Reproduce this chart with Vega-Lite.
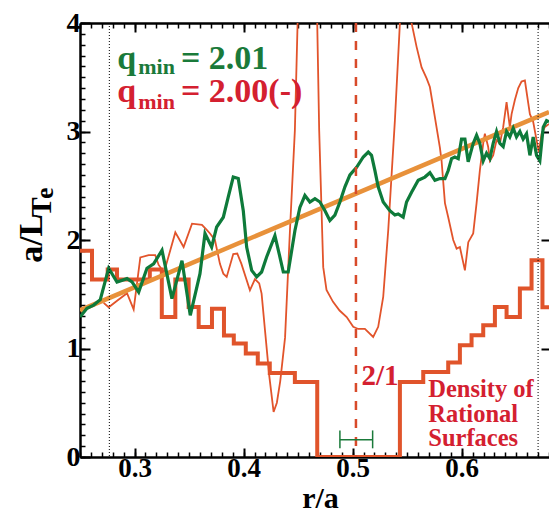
{
  "$schema": "https://vega.github.io/schema/vega-lite/v6.json",
  "width": 469,
  "height": 434,
  "autosize": {"type": "none"},
  "padding": {"left": 80, "top": 23, "right": 0, "bottom": 58},
  "background": "white",
  "datasets": {
    "steps": [
      {"r": 0.25, "v": 1.9}, {"r": 0.261, "v": 1.635}, {"r": 0.2754, "v": 1.727}, {"r": 0.2839, "v": 1.635},
      {"r": 0.314, "v": 1.727}, {"r": 0.325, "v": 1.29}, {"r": 0.3374, "v": 1.635}, {"r": 0.3496, "v": 1.382},
      {"r": 0.3588, "v": 1.198}, {"r": 0.371, "v": 1.367}, {"r": 0.382, "v": 1.12}, {"r": 0.391, "v": 1.045},
      {"r": 0.402, "v": 0.953}, {"r": 0.413, "v": 0.861}, {"r": 0.424, "v": 0.774}, {"r": 0.447, "v": 0.691},
      {"r": 0.4675, "v": 0.0}, {"r": 0.5433, "v": 0.691}, {"r": 0.5647, "v": 0.783}, {"r": 0.5876, "v": 0.87},
      {"r": 0.5983, "v": 1.03}, {"r": 0.609, "v": 1.122}, {"r": 0.6197, "v": 1.214}, {"r": 0.6304, "v": 1.382},
      {"r": 0.6411, "v": 1.29}, {"r": 0.6533, "v": 1.552}, {"r": 0.664, "v": 1.813}, {"r": 0.674, "v": 1.38},
      {"r": 0.69, "v": 1.38}
    ],
    "red": [
      {"r": 0.2717, "v": 1.42}, {"r": 0.2763, "v": 1.38}, {"r": 0.284, "v": 1.44}, {"r": 0.2931, "v": 1.51},
      {"r": 0.2992, "v": 1.36}, {"r": 0.3053, "v": 1.84}, {"r": 0.313, "v": 1.86}, {"r": 0.319, "v": 1.86},
      {"r": 0.3221, "v": 1.77}, {"r": 0.327, "v": 1.7}, {"r": 0.3374, "v": 2.07}, {"r": 0.345, "v": 1.935},
      {"r": 0.3527, "v": 2.15}, {"r": 0.3618, "v": 2.14}, {"r": 0.3664, "v": 2.09}, {"r": 0.3692, "v": 2.06},
      {"r": 0.3737, "v": 2.0}, {"r": 0.3783, "v": 1.78}, {"r": 0.3814, "v": 1.69}, {"r": 0.3845, "v": 1.66},
      {"r": 0.3905, "v": 1.87}, {"r": 0.3942, "v": 1.875}, {"r": 0.398, "v": 1.78}, {"r": 0.4058, "v": 1.536},
      {"r": 0.4104, "v": 1.64}, {"r": 0.4143, "v": 1.6}, {"r": 0.4165, "v": 1.506}, {"r": 0.4196, "v": 1.17},
      {"r": 0.4235, "v": 0.75}, {"r": 0.4275, "v": 0.415}, {"r": 0.4305, "v": 0.5}, {"r": 0.4336, "v": 0.7},
      {"r": 0.438, "v": 1.1}, {"r": 0.4425, "v": 2.09}, {"r": 0.447, "v": 3.01}, {"r": 0.4495, "v": 4.0},
      {"r": 0.458, "v": 4.9}, {"r": 0.4675, "v": 4.0}, {"r": 0.4693, "v": 3.01}, {"r": 0.473, "v": 1.75},
      {"r": 0.476, "v": 1.54}, {"r": 0.482, "v": 1.43}, {"r": 0.488, "v": 1.35}, {"r": 0.4945, "v": 1.29},
      {"r": 0.5005, "v": 1.2}, {"r": 0.5051, "v": 1.18}, {"r": 0.5112, "v": 1.18}, {"r": 0.5188, "v": 1.106},
      {"r": 0.5234, "v": 1.2}, {"r": 0.528, "v": 1.475}, {"r": 0.5326, "v": 2.09}, {"r": 0.5387, "v": 3.1},
      {"r": 0.5433, "v": 4.0}, {"r": 0.549, "v": 4.9}, {"r": 0.554, "v": 4.0}, {"r": 0.5586, "v": 3.78},
      {"r": 0.5632, "v": 3.59}, {"r": 0.5678, "v": 3.49}, {"r": 0.5708, "v": 3.41}, {"r": 0.5754, "v": 3.13},
      {"r": 0.58, "v": 2.85}, {"r": 0.5815, "v": 2.73}, {"r": 0.5846, "v": 2.34}, {"r": 0.5876, "v": 2.21},
      {"r": 0.5922, "v": 2.0}, {"r": 0.5953, "v": 1.92}, {"r": 0.5983, "v": 1.935}, {"r": 0.6029, "v": 1.72},
      {"r": 0.606, "v": 1.98}, {"r": 0.6105, "v": 2.06}, {"r": 0.6136, "v": 2.34}, {"r": 0.6166, "v": 2.64},
      {"r": 0.6197, "v": 2.89}, {"r": 0.6212, "v": 2.98}, {"r": 0.6242, "v": 2.86}, {"r": 0.6258, "v": 2.73},
      {"r": 0.6288, "v": 2.78}, {"r": 0.6319, "v": 2.92}, {"r": 0.635, "v": 2.89}, {"r": 0.638, "v": 3.04},
      {"r": 0.6411, "v": 3.27}, {"r": 0.6441, "v": 3.04}, {"r": 0.6457, "v": 3.16}, {"r": 0.6487, "v": 3.29},
      {"r": 0.6518, "v": 3.4}, {"r": 0.6548, "v": 3.46}, {"r": 0.6579, "v": 3.47}, {"r": 0.661, "v": 3.26},
      {"r": 0.6625, "v": 3.16}, {"r": 0.6655, "v": 3.09}, {"r": 0.6686, "v": 2.92}, {"r": 0.6707, "v": 2.81},
      {"r": 0.6732, "v": 2.98}, {"r": 0.6762, "v": 3.04}, {"r": 0.68, "v": 3.07}
    ],
    "green": [
      {"r": 0.25, "v": 1.29}, {"r": 0.2564, "v": 1.37}, {"r": 0.2625, "v": 1.4}, {"r": 0.2686, "v": 1.45},
      {"r": 0.2763, "v": 1.74}, {"r": 0.2839, "v": 1.613}, {"r": 0.2931, "v": 1.644}, {"r": 0.2977, "v": 1.613},
      {"r": 0.3038, "v": 1.52}, {"r": 0.3114, "v": 1.74}, {"r": 0.3175, "v": 1.78}, {"r": 0.3252, "v": 1.905},
      {"r": 0.3343, "v": 1.46}, {"r": 0.3435, "v": 1.81}, {"r": 0.3511, "v": 1.306}, {"r": 0.36, "v": 1.69},
      {"r": 0.3646, "v": 2.06}, {"r": 0.3707, "v": 1.935}, {"r": 0.3753, "v": 2.12}, {"r": 0.3814, "v": 2.21},
      {"r": 0.386, "v": 2.4}, {"r": 0.3905, "v": 2.58}, {"r": 0.3951, "v": 2.566}, {"r": 0.3997, "v": 2.27},
      {"r": 0.4028, "v": 1.935}, {"r": 0.4074, "v": 1.72}, {"r": 0.412, "v": 1.66}, {"r": 0.4165, "v": 1.705},
      {"r": 0.4211, "v": 1.843}, {"r": 0.4287, "v": 2.04}, {"r": 0.4333, "v": 1.843}, {"r": 0.4364, "v": 1.705},
      {"r": 0.4409, "v": 1.705}, {"r": 0.4471, "v": 2.09}, {"r": 0.4516, "v": 2.3}, {"r": 0.4562, "v": 2.41},
      {"r": 0.4608, "v": 2.35}, {"r": 0.4654, "v": 2.38}, {"r": 0.47, "v": 2.35}, {"r": 0.4746, "v": 2.27},
      {"r": 0.4791, "v": 2.18}, {"r": 0.4837, "v": 2.23}, {"r": 0.4883, "v": 2.35}, {"r": 0.4929, "v": 2.49},
      {"r": 0.4975, "v": 2.6}, {"r": 0.5036, "v": 2.67}, {"r": 0.5097, "v": 2.765}, {"r": 0.5143, "v": 2.81},
      {"r": 0.5173, "v": 2.78}, {"r": 0.5204, "v": 2.64}, {"r": 0.5234, "v": 2.49}, {"r": 0.528, "v": 2.35},
      {"r": 0.5341, "v": 2.27}, {"r": 0.5387, "v": 2.23}, {"r": 0.5417, "v": 2.24}, {"r": 0.5463, "v": 2.21},
      {"r": 0.5494, "v": 2.35}, {"r": 0.554, "v": 2.44}, {"r": 0.5601, "v": 2.55}, {"r": 0.5662, "v": 2.58},
      {"r": 0.5708, "v": 2.62}, {"r": 0.5754, "v": 2.55}, {"r": 0.58, "v": 2.566}, {"r": 0.5846, "v": 2.566},
      {"r": 0.5876, "v": 2.64}, {"r": 0.5907, "v": 2.75}, {"r": 0.5937, "v": 2.765}, {"r": 0.5968, "v": 2.75},
      {"r": 0.5998, "v": 2.93}, {"r": 0.6029, "v": 2.93}, {"r": 0.6059, "v": 2.72}, {"r": 0.6105, "v": 2.89},
      {"r": 0.6136, "v": 2.965}, {"r": 0.6166, "v": 2.89}, {"r": 0.6197, "v": 2.73}, {"r": 0.6227, "v": 2.8},
      {"r": 0.6258, "v": 2.75}, {"r": 0.6288, "v": 2.89}, {"r": 0.6319, "v": 3.0}, {"r": 0.635, "v": 2.89},
      {"r": 0.638, "v": 2.86}, {"r": 0.6411, "v": 3.0}, {"r": 0.6441, "v": 2.95}, {"r": 0.6472, "v": 3.03},
      {"r": 0.6502, "v": 2.95}, {"r": 0.6533, "v": 3.0}, {"r": 0.6563, "v": 2.93}, {"r": 0.6594, "v": 2.98},
      {"r": 0.6625, "v": 2.78}, {"r": 0.6655, "v": 2.95}, {"r": 0.6686, "v": 2.78}, {"r": 0.6716, "v": 2.73},
      {"r": 0.6747, "v": 3.04}, {"r": 0.6778, "v": 3.1}, {"r": 0.68, "v": 3.09}
    ],
    "fit": [{"r": 0.25, "v": 1.352}, {"r": 0.68, "v": 3.18}]
  },
  "resolve": {"axis": {"x": "independent", "y": "independent"}},
  "layer": [
    {
      "data": {"name": "steps"},
      "mark": {"type": "line", "interpolate": "step-after", "color": "#e0542b", "strokeWidth": 4, "clip": true},
      "encoding": {
        "x": {"field": "r", "type": "quantitative", "scale": {"domain": [0.25, 0.68], "nice": false, "zero": false},
          "axis": {"orient": "bottom", "values": [0.3, 0.4, 0.5, 0.6], "format": ".1f", "tickSize": -9, "tickWidth": 2,
            "domain": true, "domainWidth": 2.5, "labelFontSize": 27, "labelPadding": 7, "labelFlush": false,
            "title": "r/a", "titleFontSize": 30, "titleBaseline": "alphabetic", "titleY": 50, "titleX": 240}},
        "y": {"field": "v", "type": "quantitative", "scale": {"domain": [0, 4], "nice": false, "zero": false},
          "axis": {"orient": "left", "values": [0, 1, 2, 3, 4], "format": "d", "tickSize": -10, "tickWidth": 2,
            "domain": true, "domainWidth": 2.5, "labelFontSize": 28, "labelPadding": 10, "labelFlush": false, "title": null}}
      }
    },
    {
      "data": {"name": "red"},
      "mark": {"type": "line", "color": "#e2542b", "strokeWidth": 1.8, "clip": true},
      "encoding": {
        "x": {"field": "r", "type": "quantitative", "scale": {"domain": [0.25, 0.68], "nice": false, "zero": false},
          "axis": {"orient": "bottom", "values": [0.25,0.26,0.27,0.28,0.29,0.3,0.31,0.32,0.33,0.34,0.35,0.36,0.37,0.38,0.39,0.4,0.41,0.42,0.43,0.44,0.45,0.46,0.47,0.48,0.49,0.5,0.51,0.52,0.53,0.54,0.55,0.56,0.57,0.58,0.59,0.6,0.61,0.62,0.63,0.64,0.65,0.66,0.67,0.68],
            "labels": false, "tickSize": -5, "tickWidth": 1.5, "domain": false, "title": null}},
        "y": {"field": "v", "type": "quantitative", "scale": {"domain": [0, 4], "nice": false, "zero": false},
          "axis": {"orient": "left", "values": [0,0.1,0.2,0.3,0.4,0.5,0.6,0.7,0.8,0.9,1,1.1,1.2,1.3,1.4,1.5,1.6,1.7,1.8,1.9,2,2.1,2.2,2.3,2.4,2.5,2.6,2.7,2.8,2.9,3,3.1,3.2,3.3,3.4,3.5,3.6,3.7,3.8,3.9,4],
            "labels": false, "tickSize": -5, "tickWidth": 1.5, "domain": false, "title": null}}
      }
    },
    {
      "data": {"name": "fit"},
      "mark": {"type": "line", "color": "#e8913a", "strokeWidth": 4.5, "clip": true},
      "encoding": {
        "x": {"field": "r", "type": "quantitative", "scale": {"domain": [0.25, 0.68], "nice": false, "zero": false},
          "axis": {"orient": "top", "values": [0.25,0.26,0.27,0.28,0.29,0.3,0.31,0.32,0.33,0.34,0.35,0.36,0.37,0.38,0.39,0.4,0.41,0.42,0.43,0.44,0.45,0.46,0.47,0.48,0.49,0.5,0.51,0.52,0.53,0.54,0.55,0.56,0.57,0.58,0.59,0.6,0.61,0.62,0.63,0.64,0.65,0.66,0.67,0.68],
            "labels": false, "tickSize": -5, "tickWidth": 1.5, "domain": false, "title": null}},
        "y": {"field": "v", "type": "quantitative", "scale": {"domain": [0, 4], "nice": false, "zero": false}, "axis": null}
      }
    },
    {
      "data": {"name": "green"},
      "mark": {"type": "line", "color": "#0e7a3a", "strokeWidth": 3.2, "clip": true},
      "encoding": {
        "x": {"field": "r", "type": "quantitative", "scale": {"domain": [0.25, 0.68], "nice": false, "zero": false},
          "axis": {"orient": "top", "values": [0.3, 0.4, 0.5, 0.6], "labels": false, "tickSize": -9, "tickWidth": 2,
            "domain": true, "domainWidth": 2.5, "title": null}},
        "y": {"field": "v", "type": "quantitative", "scale": {"domain": [0, 4], "nice": false, "zero": false},
          "axis": {"orient": "right", "values": [1, 2, 3], "labels": false, "tickSize": -8, "tickWidth": 2, "domain": false, "title": null}}
      }
    },
    {
      "data": {"values": [{}]},
      "mark": {"type": "rule", "color": "#000000", "strokeWidth": 1, "strokeDash": [1, 2]},
      "encoding": {"x": {"datum": 0.2769, "type": "quantitative", "scale": {"domain": [0.25, 0.68], "nice": false, "zero": false}, "axis": null}}
    },
    {
      "data": {"values": [{}]},
      "mark": {"type": "rule", "color": "#000000", "strokeWidth": 1, "strokeDash": [1, 2]},
      "encoding": {"x": {"datum": 0.67, "type": "quantitative", "scale": {"domain": [0.25, 0.68], "nice": false, "zero": false}, "axis": null}}
    },
    {
      "data": {"values": [{}]},
      "mark": {"type": "rule", "color": "#d84a2a", "strokeWidth": 2.5, "strokeDash": [9, 9]},
      "encoding": {"x": {"datum": 0.503, "type": "quantitative", "scale": {"domain": [0.25, 0.68], "nice": false, "zero": false}, "axis": null}}
    },
    {
      "data": {"values": [{}]},
      "mark": {"type": "rule", "color": "#1a7a3a", "strokeWidth": 1.5},
      "encoding": {
        "x": {"datum": 0.4883, "type": "quantitative", "scale": {"domain": [0.25, 0.68], "nice": false, "zero": false}, "axis": null},
        "x2": {"datum": 0.5183},
        "y": {"datum": 0.16, "type": "quantitative", "scale": {"domain": [0, 4], "nice": false, "zero": false}, "axis": null}
      }
    },
    {
      "data": {"values": [{"r": 0.4883}, {"r": 0.5183}]},
      "mark": {"type": "rule", "color": "#1a7a3a", "strokeWidth": 1.5},
      "encoding": {
        "x": {"field": "r", "type": "quantitative", "scale": {"domain": [0.25, 0.68], "nice": false, "zero": false}, "axis": null},
        "y": {"datum": 0.08, "type": "quantitative", "scale": {"domain": [0, 4], "nice": false, "zero": false}, "axis": null},
        "y2": {"datum": 0.245}
      }
    },
    {
      "data": {"values": [{"t": "a/L", "r": 0.206, "v": 2.016, "s": "big"}, {"t": "T", "r": 0.2152, "v": 2.301, "s": "mid"}, {"t": "e", "r": 0.2179, "v": 2.43, "s": "small"}]},
      "mark": {"type": "text", "angle": 270, "align": "center", "baseline": "middle", "font": "Liberation Serif", "fontWeight": "bold", "color": "#000000"},
      "encoding": {
        "x": {"field": "r", "type": "quantitative", "scale": {"domain": [0.25, 0.68], "nice": false, "zero": false}, "axis": null},
        "y": {"field": "v", "type": "quantitative", "scale": {"domain": [0, 4], "nice": false, "zero": false}, "axis": null},
        "text": {"field": "t"},
        "size": {"field": "s", "type": "nominal", "scale": {"domain": ["big", "mid", "small"], "range": [34, 22, 16]}, "legend": null}
      }
    },
    {
      "data": {"values": [
        {"t": "q", "r": 0.2842, "v": 3.58, "s": "big", "c": "g"},
        {"t": "min", "r": 0.3034, "v": 3.533, "s": "sub", "c": "g"},
        {"t": "= 2.01", "r": 0.3426, "v": 3.58, "s": "big", "c": "g"},
        {"t": "q", "r": 0.2842, "v": 3.272, "s": "big", "c": "r"},
        {"t": "min", "r": 0.3034, "v": 3.21, "s": "sub", "c": "r"},
        {"t": "= 2.00(-)", "r": 0.3426, "v": 3.272, "s": "big", "c": "r"}
      ]},
      "mark": {"type": "text", "align": "left", "baseline": "alphabetic", "font": "Liberation Serif", "fontWeight": "bold"},
      "encoding": {
        "x": {"field": "r", "type": "quantitative", "scale": {"domain": [0.25, 0.68], "nice": false, "zero": false}, "axis": null},
        "y": {"field": "v", "type": "quantitative", "scale": {"domain": [0, 4], "nice": false, "zero": false}, "axis": null},
        "text": {"field": "t"},
        "size": {"field": "s", "type": "nominal", "scale": {"domain": ["big", "sub"], "range": [28, 20]}, "legend": null},
        "color": {"field": "c", "type": "nominal", "scale": {"domain": ["g", "r"], "range": ["#1a7a3a", "#d42030"]}, "legend": null}
      }
    },
    {
      "data": {"values": [{}]},
      "mark": {"type": "text", "text": "2/1", "align": "left", "baseline": "alphabetic", "font": "Liberation Serif", "fontWeight": "bold", "fontSize": 29, "color": "#d42030"},
      "encoding": {
        "x": {"datum": 0.508, "type": "quantitative", "scale": {"domain": [0.25, 0.68], "nice": false, "zero": false}, "axis": null},
        "y": {"datum": 0.66, "type": "quantitative", "scale": {"domain": [0, 4], "nice": false, "zero": false}, "axis": null}
      }
    },
    {
      "data": {"values": [{}]},
      "mark": {"type": "text", "text": ["Density of", "Rational", "Surfaces"], "lineHeight": 24.5, "align": "left", "baseline": "alphabetic", "font": "Liberation Serif", "fontWeight": "bold", "fontSize": 24.5, "color": "#d42030"},
      "encoding": {
        "x": {"datum": 0.5693, "type": "quantitative", "scale": {"domain": [0.25, 0.68], "nice": false, "zero": false}, "axis": null},
        "y": {"datum": 0.55, "type": "quantitative", "scale": {"domain": [0, 4], "nice": false, "zero": false}, "axis": null}
      }
    }
  ],
  "config": {
    "view": {"stroke": null},
    "axis": {"grid": false, "domainColor": "#000000", "tickColor": "#000000", "labelColor": "#000000",
      "labelFont": "Liberation Serif", "labelFontWeight": "bold", "titleFont": "Liberation Serif", "titleFontWeight": "bold", "titleColor": "#000000"}
  }
}
